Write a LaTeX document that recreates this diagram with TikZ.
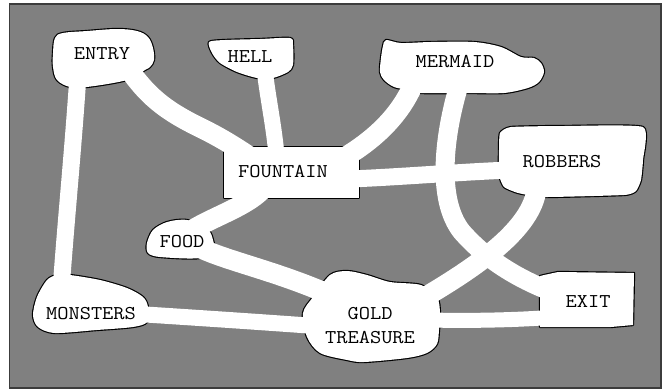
\documentclass[tikz,border=0pt]{standalone}
\usepackage{fontspec}
\usepackage{graphicx}
\definecolor{bg}{RGB}{128,128,128}
\definecolor{frame}{RGB}{60,60,60}
\newcommand\mapfont{\ttfamily\fontsize{19.5}{23}\selectfont}
\newcommand\wide[1]{\scalebox{1.12}[1]{#1}}
\newcommand\shpEntry[1]{\path[#1] plot[smooth cycle,tension=0.6] coordinates{(55,38) (63,33) (87,31) (117,29) (137,31) (148,37) (153,48) (154,60) (150,67) (145,70) (127,80) (87,87) (70,87) (57,80) (53,67) (53,53)};}
\newcommand\shpHell[1]{\path[#1] plot[smooth cycle,tension=0.45] coordinates{(209,42) (225,40) (260,39) (290,38) (293,45) (293,65) (288,72) (273,78) (257,78) (237,72) (220,63) (212,53)};}
\newcommand\shpMermaid[1]{\path[#1] plot[smooth cycle,tension=0.5] coordinates{(386,40) (401,43) (431,42) (474,42) (501,47) (521,57) (534,58) (541,63) (544,72) (539,82) (528,88) (504,93) (468,93) (421,93) (408,90) (394,87) (384,80) (380,72) (381,58) (383,46)};}
\newcommand\shpRobbers[1]{\path[#1] plot[smooth cycle,tension=0.3] coordinates{(500,133) (511,127) (564,126) (643,127) (643,160) (641,180) (636,191) (624,195) (544,197) (518,193) (504,187) (499,175) (499,150)};}
\newcommand\shpFountain[1]{\path[#1] (224,147) rectangle (359,198);}
\newcommand\shpFood[1]{\path[#1] plot[smooth cycle,tension=0.5] coordinates{(167,222) (187,220) (208,230) (213,240) (213,247) (200,258) (160,257) (148,253) (147,243) (153,230)};}
\newcommand\shpMonsters[1]{\path[#1] plot[smooth cycle,tension=0.5] coordinates{(70,275) (100,280) (127,288) (143,297) (148,307) (147,322) (133,327) (97,330) (55,333) (38,327) (33,315) (37,297) (47,280) (57,275)};}
\newcommand\shpGold[1]{\path[#1] plot[smooth cycle,tension=0.5] coordinates{(313,297) (330,275) (347,271) (367,275) (390,282) (421,285) (437,297) (440,313) (439,330) (437,344) (427,353) (407,358) (364,362) (347,360) (320,353) (307,337) (303,313)};}
\newcommand\shpExit[1]{\path[#1] (544,275) -- (558,272) -- (634,273) -- (633,325) -- (611,327) -- (540,327) -- (540,276) -- cycle;}
\newcommand\allshapes[1]{\shpEntry{#1}\shpHell{#1}\shpMermaid{#1}\shpRobbers{#1}\shpFountain{#1}\shpFood{#1}\shpMonsters{#1}\shpGold{#1}\shpExit{#1}}
\begin{document}
\begin{tikzpicture}[x=1pt,y=-1pt,
  road/.style={draw=white,line width=#1},
  road/.default=19pt,
  rim/.style={draw=black,line width=2.3pt,line join=round},
  lbl/.style={font=\mapfont,inner sep=0pt,text=black,align=center,yshift=-2pt}]
\useasboundingbox (0,0) rectangle (662,389);
\fill[white] (0,0) rectangle (662,389);
\draw[fill=bg,draw=frame,line width=1.5pt] (9.5,4) rectangle (661,388);
% road end points
\coordinate (ent1) at (128,68);
\coordinate (ent2) at (78,75);
\coordinate (hel1) at (264,65);
\coordinate (mer1) at (413,85);
\coordinate (mer2) at (459,85);
\coordinate (fnt1) at (255,160);
\coordinate (fnt2) at (277,160);
\coordinate (fnt3) at (340,160);
\coordinate (fnt4) at (350,179);
\coordinate (fnt5) at (262,190);
\coordinate (rob1) at (537,185);
\coordinate (rob2) at (510,170);
\coordinate (fod1) at (192,230);
\coordinate (fod2) at (200,248);
\coordinate (mon1) at (61,290);
\coordinate (mon2) at (138,314);
\coordinate (gld1) at (420,300);
\coordinate (gld2) at (335,297);
\coordinate (gld3) at (315,326);
\coordinate (gld4) at (430,320);
\coordinate (ext1) at (555,293);
\coordinate (ext2) at (555,317);
% outlines
\allshapes{rim}
% roads
\draw[road=20pt] (ent1) .. controls (150,100) and (170,113) .. (205,130) .. controls (225,140) and (240,150) .. (fnt1);
\draw[road=16pt] (hel1) .. controls (268,100) and (274,125) .. (fnt2);
\draw[road=17pt] (ent2) .. controls (73,150) and (66,220) .. (mon1);
\draw[road=20pt] (mer1) .. controls (400,115) and (375,140) .. (fnt3);
\draw[road=19pt] (mer2) .. controls (444,135) and (436,200) .. (462,232) .. controls (485,258) and (515,278) .. (ext1);
\draw[road=20pt] (rob1) .. controls (535,225) and (485,262) .. (gld1);
\draw[road=17pt] (fnt4) .. controls (400,177) and (460,172) .. (rob2);
\draw[road=20pt] (fnt5) .. controls (245,207) and (215,216) .. (fod1);
\draw[road=20pt] (fod2) .. controls (230,262) and (280,272) .. (gld2);
\draw[road=16pt] (mon2) .. controls (200,318) and (260,322) .. (gld3);
\draw[road=15pt] (gld4) .. controls (470,321) and (520,320) .. (ext2);
% fills
\allshapes{fill=white}
% labels
\node[lbl] (entry) at (102,52) {\wide{ENTRY}};
\node[lbl] (hell) at (250,55) {\wide{HELL}};
\node[lbl] (fountain) at (283,170) {\wide{FOUNTAIN}};
\node[lbl] (mermaid) at (455,60) {\wide{MERMAID}};
\node[lbl] (robbers) at (562,160) {\wide{ROBBERS}};
\node[lbl] (food) at (182,240) {\wide{FOOD}};
\node[lbl] (monsters) at (91,312) {\wide{MONSTERS}};
\node[lbl] (gold) at (370,324) {\wide{GOLD}\\[1pt]\wide{TREASURE}};
\node[lbl] (exit) at (588,300) {\wide{EXIT}};
\end{tikzpicture}
\end{document}
